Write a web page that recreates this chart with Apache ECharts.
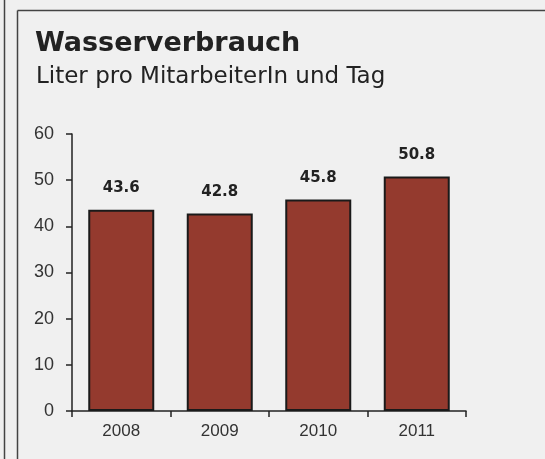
<!DOCTYPE html>
<html>
<head>
<meta charset="utf-8">
<script src="https://cdn.jsdelivr.net/npm/echarts@6/dist/echarts.min.js"></script>
<style>
  html,body{margin:0;padding:0;background:#f0f0f0;}
  #chart{width:545px;height:459px;}
</style>
</head>
<body>
<div id="chart"></div>
<script>
/* ---------- data ---------- */
const years  = ['2008','2009','2010','2011'];
const liters = [43.6, 42.8, 45.8, 50.8];
const yTicks = {min:0, max:60, step:10};

const titleText = 'Wasserverbrauch';
const subText   = 'Liter pro MitarbeiterIn und Tag';

/* ---------- chart ---------- */
const chart = echarts.init(document.getElementById('chart'), null, {renderer:'canvas'});
chart.setOption({
  backgroundColor:'#f0f0f0',
  animation:false,
  title:[
    {text:titleText, left:30, top:25,
     textStyle:{fontFamily:'DejaVu Sans', fontWeight:'bold', fontSize:27, color:'#222'}},
    {text:subText, left:31, top:61,
     textStyle:{fontFamily:'DejaVu Sans', fontWeight:'normal', fontSize:23, color:'#222'}}
  ],
  grid:{left:72, right:79, top:134, bottom:48},
  xAxis:{
    type:'category',
    data:years,
    axisLine:{lineStyle:{color:'#222', width:1.5}},
    axisTick:{show:true, length:6, lineStyle:{color:'#222', width:1.5}},
    axisLabel:{fontFamily:'Liberation Sans', fontSize:17, color:'#333', margin:12}
  },
  yAxis:{
    type:'value',
    min:yTicks.min, max:yTicks.max, interval:yTicks.step,
    splitLine:{show:false},
    axisLine:{show:true, lineStyle:{color:'#222', width:1.5}},
    axisTick:{show:true, length:6, lineStyle:{color:'#222', width:1.5}},
    axisLabel:{fontFamily:'Liberation Sans', fontSize:18, color:'#333', margin:18}
  },
  series:[{
    type:'bar',
    data:liters,
    barWidth:66,
    itemStyle:{color:'#943a2e', borderColor:'#1a1a1a', borderWidth:2},
    label:{show:true, position:'top', distance:14,
      fontFamily:'DejaVu Sans', fontWeight:'bold', fontSize:15, color:'#222',
      formatter:p=>p.value.toFixed(1)}
  }],
  graphic:[
    {type:'line', shape:{x1:4.5, y1:0, x2:4.5, y2:459}, style:{stroke:'#444', lineWidth:1.5}},
    {type:'line', shape:{x1:17.5, y1:10.5, x2:545, y2:10.5}, style:{stroke:'#444', lineWidth:1.5}},
    {type:'line', shape:{x1:17.5, y1:10.5, x2:17.5, y2:459}, style:{stroke:'#444', lineWidth:1.5}}
  ]
});
</script>
</body>
</html>
